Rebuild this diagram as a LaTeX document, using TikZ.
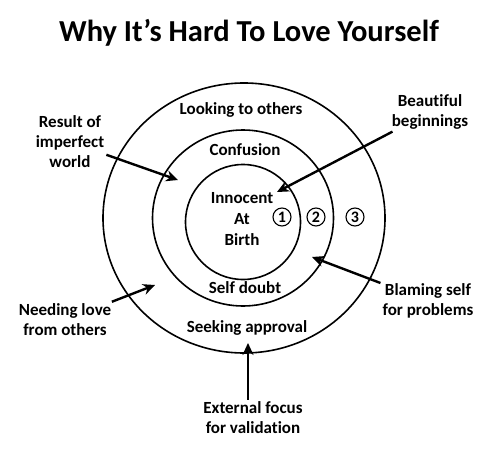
\documentclass[tikz,border=0pt]{standalone}
\usepackage{fontspec}
\setmainfont{Carlito}[Ligatures=NoCommon]
\usetikzlibrary{arrows.meta,shapes.geometric}

\begin{document}
\begin{tikzpicture}[x=1pt,y=-1pt,
  ring/.style={draw,ellipse,line width=1.6pt,inner sep=0pt},
  lbl/.style={font=\fontsize{17}{20}\selectfont\bfseries,align=center,inner sep=2pt},
  num/.style={draw,circle,line width=1.1pt,inner sep=0.4pt,minimum size=18pt,
    font=\fontsize{16}{17}\selectfont\bfseries},
  arr/.style={-{Stealth[length=12pt,width=11pt]},line width=2.4pt}]
\useasboundingbox (0,0) rectangle (500,452);
\node[font=\fontsize{30.5}{33}\selectfont\bfseries] (title) at (249,33) {Why It’s Hard To Love Yourself};
% rings
\node[ring,minimum width=282pt,minimum height=270pt] (outer) at (244,218) {};
\node[ring,minimum width=181pt,minimum height=176pt] (middle) at (243,218) {};
\node[ring,minimum width=115pt,minimum height=115pt] (inner) at (243,222) {};
% texts in rings
\node[lbl] (look) at (241,110) {Looking to others};
\node[lbl] (conf) at (245,150) {Confusion};
\node[lbl,font=\fontsize{17}{21}\selectfont\bfseries] (birth) at (242,219) {Innocent\\At\\Birth};
\node[lbl] (doubt) at (245,288) {Self doubt};
\node[lbl] (seek) at (247,328) {Seeking approval};
\node[num] (n1) at (282,217) {1};
\node[num] (n2) at (316,217) {2};
\node[num] (n3) at (355,217) {3};
% side labels
\node[lbl] (result) at (70,142) {Result of\\imperfect\\world};
\node[lbl] (need) at (65,320) {Needing love\\from others};
\node[lbl] (beaut) at (430,112) {Beautiful\\beginnings};
\node[lbl] (blame) at (428,301) {Blaming self\\for problems};
\node[lbl] (ext) at (253,418) {External focus\\for validation};
% arrow tips
\coordinate (tresult) at (178,180);
\coordinate (tneed) at (155,285);
\coordinate (tbeaut) at (277,192);
\coordinate (tblame) at (312,257);
\coordinate (text) at (248,343);
\draw[arr] (result) -- (tresult);
\draw[arr] (need) -- (tneed);
\draw[arr] (beaut) -- (tbeaut);
\draw[arr] (blame) -- (tblame);
\draw[arr] (ext.north -| text) -- (text);
\end{tikzpicture}
\end{document}
